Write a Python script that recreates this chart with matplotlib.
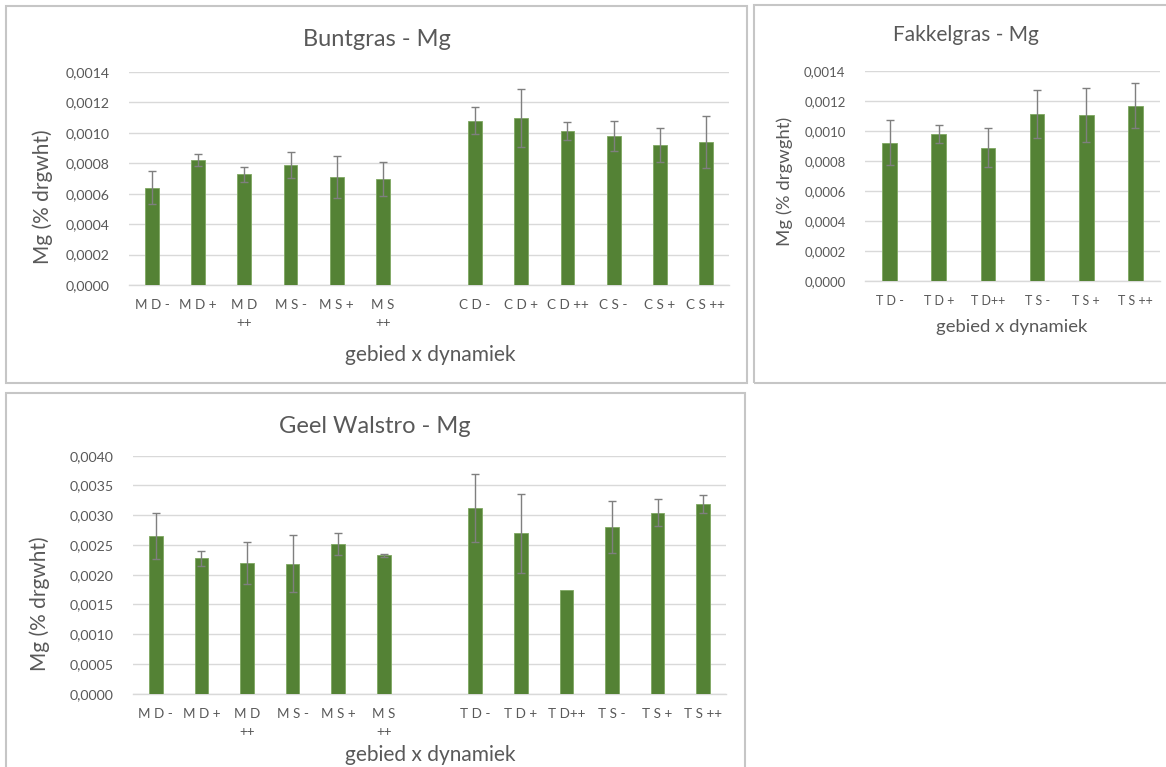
import numpy as np
import matplotlib
matplotlib.use("Agg")
import matplotlib.pyplot as plt
from matplotlib.patches import Rectangle
from matplotlib.ticker import FuncFormatter, MultipleLocator

plt.rcParams['font.family'] = ['Lato', 'DejaVu Sans']

## data
bunt_labels = ["M D -", "M D +", "M D\n++", "M S -", "M S +", "M S\n++", "",
               "C D -", "C D +", "C D ++", "C S -", "C S +", "C S ++"]
bunt_vals = [0.00064, 0.00082, 0.000727, 0.00079, 0.00071, 0.000697, np.nan,
             0.00108, 0.00110, 0.00101, 0.00098, 0.00092, 0.00094]
bunt_err = [0.00011, 0.00004, 0.00005, 0.000086, 0.00014, 0.00011, np.nan,
            0.00009, 0.00019, 0.00006, 0.00010, 0.00011, 0.00017]

fakkel_labels = ["T D -", "T D +", "T D++", "T S -", "T S +", "T S ++"]
fakkel_vals = [0.000921, 0.000977, 0.000888, 0.001115, 0.001106, 0.001168]
fakkel_err = [0.00015, 0.00006, 0.00013, 0.00016, 0.00018, 0.00015]

geel_labels = ["M D -", "M D +", "M D\n++", "M S -", "M S +", "M S\n++", "",
               "T D -", "T D +", "T D++", "T S -", "T S +", "T S ++"]
geel_vals = [0.00265, 0.002275, 0.0022, 0.002185, 0.002516, 0.002325, np.nan,
             0.00312, 0.002696, 0.001737, 0.002807, 0.003042, 0.003183]
geel_err = [0.00039, 0.00013, 0.00035, 0.00048, 0.00019, 0.00003, np.nan,
            0.00057, 0.00066, np.nan, 0.00044, 0.00023, 0.00015]

GREEN = '#548235'
TXT = '#595959'
GRID = '#d9d9d9'

W, H = 1166, 767
fig = plt.figure(figsize=(W / 100, H / 100), dpi=100)


def fx(px):
    return px / W


def fy(px):
    return 1 - px / H


def panel_box(x0, y0, x1, y1):
    # grey chart-area frame like the Excel export
    fig.patches.append(Rectangle((fx(x0), fy(y1)), fx(x1 - x0), (y1 - y0) / H,
                                 transform=fig.transFigure, fill=False,
                                 edgecolor='#c6c6c6', linewidth=1.5, zorder=0))


def bar_chart(rect, labels, vals, errs, ymax, ystep, tick_size):
    ax = fig.add_axes(rect)
    x = np.arange(len(labels))
    vals = np.array(vals, dtype=float)
    errs = np.array(errs, dtype=float)
    ok = ~np.isnan(vals)
    ax.bar(x[ok], vals[ok], width=0.3, color=GREEN, edgecolor='#7fa862',
           linewidth=0.6, zorder=3)
    eok = ok & ~np.isnan(errs)
    ax.errorbar(x[eok], vals[eok], yerr=errs[eok], fmt='none',
                ecolor='#7f7f7f', elinewidth=1, capsize=3, capthick=1, zorder=4)
    ax.set_xlim(-0.5, len(labels) - 0.5)
    ax.set_ylim(0, ymax)
    ax.yaxis.set_major_locator(MultipleLocator(ystep))
    ax.yaxis.set_major_formatter(FuncFormatter(lambda v, p: f'{v:.4f}'.replace('.', ',')))
    ax.set_xticks(x)
    ax.set_xticklabels(labels, fontsize=tick_size, color=TXT, linespacing=1.6)
    ax.tick_params(axis='y', labelsize=tick_size + 0.5, colors=TXT, length=0, pad=14)
    ax.tick_params(axis='x', length=0, pad=10)
    ax.grid(axis='y', color=GRID, linewidth=1, zorder=0)
    for s in ['top', 'right', 'left']:
        ax.spines[s].set_visible(False)
    ax.spines['bottom'].set_color(GRID)
    ax.spines['bottom'].set_linewidth(1)
    return ax


## Buntgras
panel_box(6, 6, 747, 383)
bar_chart([fx(129), fy(285), fx(600), 213 / H], bunt_labels, bunt_vals, bunt_err,
          0.0014, 0.0002, 9.7)
fig.text(fx(377), fy(40), 'Buntgras - Mg', ha='center', va='center', fontsize=17, color=TXT)
fig.text(fx(430), fy(355), 'gebied x dynamiek', ha='center', va='center', fontsize=15, color=TXT)
fig.text(fx(43), fy(197), 'Mg (% drgwht)', ha='center', va='center', rotation=90,
         fontsize=15, color=TXT)

## Fakkelgras
panel_box(754, 5, 1170, 383)
bar_chart([fx(865), fy(280.7), fx(295), 209.7 / H], fakkel_labels, fakkel_vals, fakkel_err,
          0.0014, 0.0002, 9)
fig.text(fx(966), fy(35), 'Fakkelgras - Mg', ha='center', va='center', fontsize=15, color=TXT)
fig.text(fx(1012), fy(327), 'gebied x dynamiek', ha='center', va='center', fontsize=13.3, color=TXT)
fig.text(fx(785), fy(181), 'Mg (% drgwght)', ha='center', va='center', rotation=90,
         fontsize=13.3, color=TXT)

## Geel Walstro
panel_box(6, 393, 745, 780)
bar_chart([fx(133), fy(693.7), fx(593), 238 / H], geel_labels, geel_vals, geel_err,
          0.0040, 0.0005, 9.7)
fig.text(fx(375), fy(426), 'Geel Walstro - Mg', ha='center', va='center', fontsize=17, color=TXT)
fig.text(fx(430), fy(755), 'gebied x dynamiek', ha='center', va='center', fontsize=15, color=TXT)
fig.text(fx(40), fy(604), 'Mg (% drgwht)', ha='center', va='center', rotation=90,
         fontsize=15, color=TXT)

plt.savefig('out.png', dpi=100, facecolor='white')
